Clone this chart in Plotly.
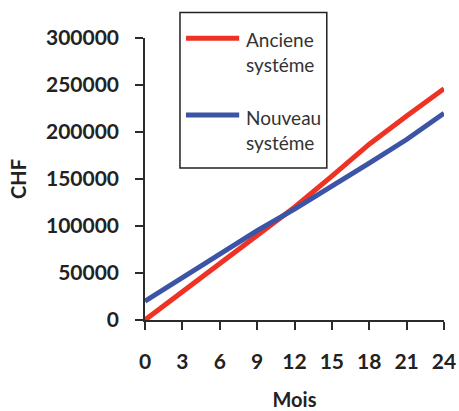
import plotly.graph_objects as go

# Cumulative cost over 24 months for the two systems
mois = [0, 3, 6, 9, 12, 15, 18, 21, 24]
ancien = [0, 30000, 60000, 90000, 120000, 153000, 187000, 217000, 246000]
nouveau = [20000, 45000, 70000, 95000, 118000, 142000, 167000, 192000, 220000]

series_names = ["Anciene<br>systéme", "Nouveau<br>systéme"]
series_colors = ["#EE3224", "#3B54A5"]
y_ticks = [0, 50000, 100000, 150000, 200000, 250000, 300000]

FONT = "Lato"
AXIS_COLOR = "#2b2b2b"

fig = go.Figure()
for vals, name, color in zip([ancien, nouveau], series_names, series_colors):
    fig.add_trace(go.Scatter(
        x=mois, y=vals, mode="lines", name=name,
        line=dict(color=color, width=5),
        showlegend=False,
    ))

fig.update_xaxes(
    range=[0, 24], tickvals=mois, ticktext=[str(m) for m in mois],
    showline=True, linecolor=AXIS_COLOR, linewidth=1.5,
    ticks="outside", ticklen=8, tickwidth=1.5, tickcolor=AXIS_COLOR,
    showgrid=False, zeroline=False, automargin=False,
    tickfont=dict(family=FONT, size=21, color="#222222", weight="bold"),
    ticklabelstandoff=14,
    title=dict(text="<b>Mois</b>", font=dict(family=FONT, size=20, color="#222222"),
               standoff=22),
)
fig.update_yaxes(
    range=[0, 300000], tickvals=y_ticks, ticktext=[str(v) for v in y_ticks],
    showline=True, linecolor=AXIS_COLOR, linewidth=1.5,
    ticks="outside", ticklen=8, tickwidth=1.5, tickcolor=AXIS_COLOR,
    showgrid=False, zeroline=False, automargin=False,
    tickfont=dict(family=FONT, size=21, color="#222222", weight="bold"),
    ticklabelstandoff=12,
    title=dict(text="<b>CHF</b>", font=dict(family=FONT, size=20, color="#222222"),
               standoff=14),
)

# Legend box drawn with shapes and annotations
fig.add_shape(type="rect", xref="paper", yref="paper",
              x0=0.117, x1=0.608, y0=0.539, y1=1.09,
              line=dict(color="#222222", width=1.5), fillcolor="white", layer="above")
legend_line_y = [0.999, 0.727]
legend_text_y = [0.952, 0.6755]
for name, color, ly, ty in zip(series_names, series_colors, legend_line_y, legend_text_y):
    fig.add_shape(type="line", xref="paper", yref="paper",
                  x0=0.137, x1=0.315, y0=ly, y1=ly,
                  line=dict(color=color, width=5), layer="above")
    fig.add_annotation(xref="paper", yref="paper", x=0.331, y=ty,
                       xanchor="left", yanchor="middle", align="left",
                       text=name, showarrow=False,
                       font=dict(family=FONT, size=19, color="#333333"))

fig.update_layout(
    width=459, height=411,
    margin=dict(l=145, r=15, t=38, b=91),
    paper_bgcolor="white", plot_bgcolor="white",
)

fig.write_html("out.html")
